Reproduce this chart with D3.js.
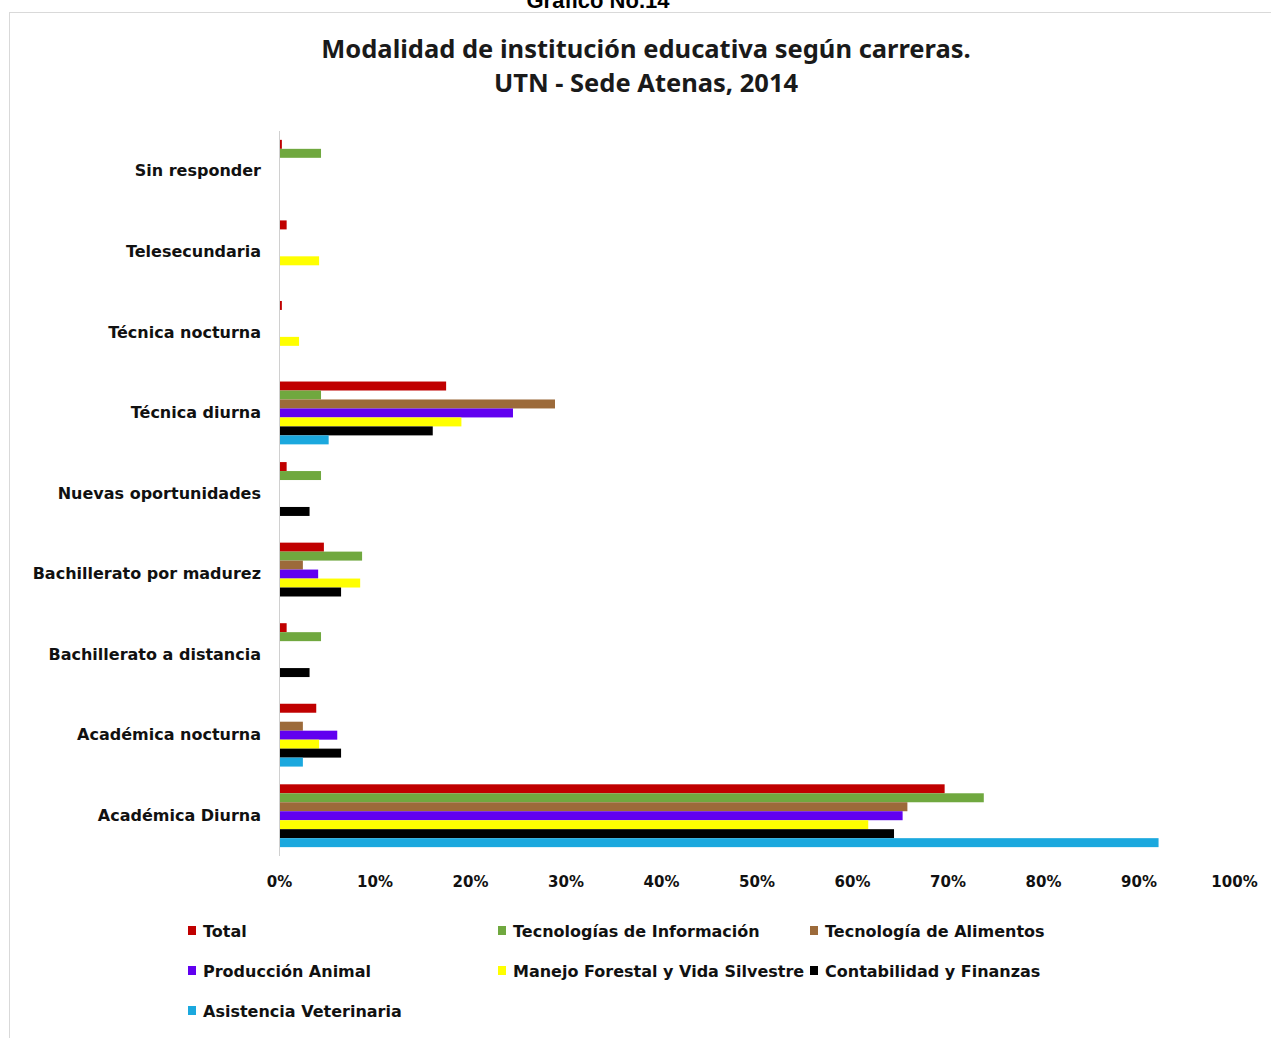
<!DOCTYPE html>
<html><head><meta charset="utf-8">
<script src="https://cdn.jsdelivr.net/npm/d3@7"></script>
<style>body{margin:0;background:#fff;}svg{display:block;}</style>
</head><body>
<script>
const categories = ["Sin responder","Telesecundaria","Técnica nocturna","Técnica diurna","Nuevas oportunidades","Bachillerato por madurez","Bachillerato a distancia","Académica nocturna","Académica Diurna"];
const seriesNames = ["Total","Tecnologías de Información","Tecnología de Alimentos","Producción Animal","Manejo Forestal y Vida Silvestre","Contabilidad y Finanzas","Asistencia Veterinaria"];
const seriesColors = ["#C00000","#70A83F","#9C6A3A","#6100F0","#FFFF00","#000000","#1BA8DE"];
// values in %, one array per series, aligned with categories
const total     = [0.3, 0.8, 0.3, 17.5, 0.8, 4.7, 0.8, 3.9, 69.7];
const tecInfo   = [4.4, 0,   0,   4.4,  4.4, 8.7, 4.4, 0,   73.8];
const tecAlim   = [0,   0,   0,   28.9, 0,   2.5, 0,   2.5, 65.8];
const prodAnim  = [0,   0,   0,   24.5, 0,   4.1, 0,   6.1, 65.3];
const manejoFor = [0,   4.2, 2.1, 19.1, 0,   8.5, 0,   4.2, 61.7];
const contab    = [0,   0,   0,   16.1, 3.2, 6.5, 3.2, 6.5, 64.4];
const asistVet  = [0,   0,   0,   5.2,  0,   0,   0,   2.5, 92.1];
const seriesValues = [total, tecInfo, tecAlim, prodAnim, manejoFor, contab, asistVet];
const xTicks = [0,10,20,30,40,50,60,70,80,90,100];

const W = 1271, H = 1038;
const svg = d3.select("body").append("svg").attr("width", W).attr("height", H);

// outer chart frame
svg.append("rect").attr("x", 9.5).attr("y", 12.5).attr("width", 1290).attr("height", 1100)
  .attr("fill", "none").attr("stroke", "#d9d9d9");

svg.append("text").attr("x", 598).attr("y", 8).attr("text-anchor", "middle")
  .attr("font-family", "Liberation Sans, Arial").attr("font-weight", "bold").attr("font-size", 22)
  .text("Gráfico No.14");

const tf = "'Noto Sans', sans-serif";
svg.append("text").attr("x", 646).attr("y", 58).attr("text-anchor", "middle")
  .attr("font-family", tf).attr("font-size", 25.5).attr("font-weight", "bold").attr("fill", "#1a1a1a")
  .text("Modalidad de institución educativa según carreras.");
svg.append("text").attr("x", 646).attr("y", 92).attr("text-anchor", "middle")
  .attr("font-family", tf).attr("font-size", 25.5).attr("font-weight", "bold").attr("fill", "#1a1a1a")
  .text("UTN - Sede Atenas, 2014");

const x = d3.scaleLinear().domain([0, 100]).range([279, 1234]);
const y = d3.scaleBand().domain(categories).range([131, 856]).paddingInner(0.22).paddingOuter(0.11);
const ySub = d3.scaleBand().domain(seriesNames).range([0, y.bandwidth()]);

const g = svg.append("g");
categories.forEach((c, ci) => {
  seriesNames.forEach((s, si) => {
    const v = seriesValues[si][ci];
    if (v <= 0) return;
    g.append("rect").attr("x", x(0)).attr("y", y(c) + ySub(s))
      .attr("width", x(v) - x(0)).attr("height", ySub.bandwidth())
      .attr("fill", seriesColors[si]);
  });
});

// vertical axis line
svg.append("line").attr("x1", x(0) + 0.5).attr("x2", x(0) + 0.5).attr("y1", 131).attr("y2", 856)
  .attr("stroke", "#d0d0d0");

const lf = "'DejaVu Sans', sans-serif";
const yAxis = svg.append("g").attr("transform", `translate(${x(0)},0)`)
  .call(d3.axisLeft(y).tickSize(0).tickPadding(18));
yAxis.select(".domain").remove();
yAxis.selectAll("text").attr("font-family", lf).attr("font-size", 16).attr("font-weight", "bold").attr("fill", "#111");

const xAxis = svg.append("g").attr("transform", `translate(0,872)`)
  .call(d3.axisBottom(x).tickValues(xTicks).tickSize(0).tickPadding(4).tickFormat(d => d + "%"));
xAxis.select(".domain").remove();
xAxis.selectAll("text").attr("font-family", lf).attr("font-size", 15).attr("font-weight", "bold").attr("fill", "#111");

// legend
const legPos = [[188,931],[498,931],[810,931],[188,971],[498,971],[810,971],[188,1011]];
seriesNames.forEach((s, i) => {
  const [lx, ly] = legPos[i];
  svg.append("rect").attr("x", lx).attr("y", ly - 5).attr("width", 8).attr("height", 9).attr("fill", seriesColors[i]);
  svg.append("text").attr("x", lx + 15).attr("y", ly + 6)
    .attr("font-family", lf).attr("font-size", 16).attr("font-weight", "bold").attr("fill", "#111")
    .text(s);
});
</script>
</body></html>
